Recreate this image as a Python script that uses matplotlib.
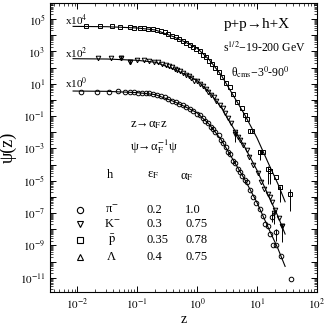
import numpy as np
import matplotlib
matplotlib.use("Agg")
import matplotlib.pyplot as plt
from matplotlib.ticker import LogLocator, FuncFormatter, NullFormatter

plt.rcParams["font.family"] = ["Liberation Serif", "DejaVu Serif"]
plt.rcParams["mathtext.fontset"] = "stix"

# scaling curve (pi-, x10^0); the other two are the same curve shifted
curve_z = [0.0085, 0.0316, 0.1, 0.2, 0.398, 0.631, 1.0, 1.585, 2.512, 3.981,
           6.31, 10.0, 15.85, 22.39, 29.5]
curve_logpsi = [0.55, 0.53, 0.45, 0.33, -0.08, -0.42, -0.8, -1.5, -2.45, -3.7,
                -4.95, -6.35, -8.0, -9.2, -10.3]
offsets = [1.0, 1e2, 1e4]
offset_labels = ["x10$^{0}$", "x10$^{2}$", "x10$^{4}$"]

# pi- (circles), x10^0
pi_z = [0.0117, 0.021, 0.034, 0.048, 0.062, 0.075, 0.09, 0.105, 0.12, 0.14,
        0.16, 0.18, 0.21, 0.25, 0.29, 0.33, 0.38, 0.45, 0.5, 0.58, 0.65, 0.76,
        0.85, 1.0, 1.1, 1.25, 1.36, 1.5, 1.7, 1.85, 2.0, 2.3, 2.5, 2.7, 3.0,
        3.3, 3.6, 4.0, 4.3, 4.8, 5.2, 5.6, 6.2, 6.8, 7.6, 8.6, 9.5, 11.2, 12.6,
        13.6, 15.2, 16.5, 18.5, 20.5, 25, 37]
pi_logpsi = [0.48, 0.50, 0.51, 0.55, 0.50, 0.49, 0.47, 0.45, 0.44, 0.42, 0.40,
             0.36, 0.30, 0.22, 0.15, 0.08, -0.05, -0.15, -0.25, -0.30, -0.42,
             -0.55, -0.68, -0.85, -0.95, -1.10, -1.30, -1.45, -1.70, -1.80,
             -2.0, -2.2, -2.5, -2.65, -2.9, -3.2, -3.35, -3.75, -3.9, -4.3,
             -4.45, -4.7, -4.95, -5.1, -5.6, -6.0, -6.4, -6.75, -7.2, -7.7,
             -7.8, -8.3, -9.0, -9.0, -9.65, -11.06]
pi_err_z = [17.7, 20.7]
pi_err_logpsi = [-7.25, -8.2]
pi_err_lo = [0.3, 0.5]
pi_err_hi = [0.3, 0.2]

# K- (down triangles), x10^2
k_z = [0.022, 0.036, 0.054, 0.076, 0.1, 0.13, 0.16, 0.19, 0.22, 0.26, 0.3,
       0.34, 0.38, 0.42, 0.47, 0.52, 0.58, 0.65, 0.72, 0.8, 0.9, 1.0, 1.12,
       1.25, 1.4, 1.55, 1.7, 1.9, 2.1, 2.4, 2.7, 2.9, 3.3, 3.7, 4.3, 4.8, 5.2,
       5.8, 6.8, 7.5, 8.5, 10.4, 11.5, 13, 15, 16.5, 18, 20, 23, 26]
k_logpsi = [2.58, 2.57, 2.62, 2.33, 2.47, 2.44, 2.40, 2.37, 2.33, 2.25, 2.18,
            2.1, 2.02, 1.93, 1.85, 1.78, 1.66, 1.55, 1.45, 1.33, 1.18, 1.15,
            0.98, 0.85, 0.68, 0.5, 0.33, 0.18, -0.05, -0.3, -0.5, -0.8, -1.1,
            -1.45, -2.0, -2.3, -2.45, -2.8, -3.1, -3.55, -4.0, -4.5, -5.1,
            -5.5, -5.8, -6.0, -6.3, -6.8, -7.3, -7.8]
k_err_z = [0.054, 0.076, 4.3, 19, 26]
k_err_logpsi = [2.62, 2.33, -2.1, -7.0, -7.8]
k_err_lo = [0.08, 0.1, 0.5, 0.7, 1.0]
k_err_hi = [0.08, 0.15, 0.1, 0.1, 0.1]

# anti-p (squares), x10^4
p_z = [0.0137, 0.024, 0.038, 0.052, 0.075, 0.09, 0.11, 0.13, 0.15, 0.18, 0.21,
       0.25, 0.29, 0.33, 0.38, 0.44, 0.5, 0.58, 0.65, 0.75, 0.85, 0.95, 1.1,
       1.25, 1.4, 1.6, 1.8, 2.0, 2.3, 2.6, 3.0, 3.5, 4.0, 4.6, 5.6, 6.2, 6.8,
       7.6, 8.3, 11.2, 12.6, 16.5, 21, 24]
p_logpsi = [4.58, 4.57, 4.57, 4.54, 4.5, 4.47, 4.45, 4.44, 4.4, 4.36, 4.32,
            4.26, 4.18, 4.1, 3.98, 3.88, 3.78, 3.65, 3.55, 3.42, 3.28, 3.18,
            3.0, 2.8, 2.65, 2.42, 2.2, 1.95, 1.7, 1.4, 1.05, 0.8, 0.35, -0.1,
            -0.5, -0.95, -1.2, -1.95, -1.9, -3.2, -3.25, -4.4, -4.8, -5.4]
p_err_z = [11.2, 15.2, 16.5, 24, 35]
p_err_logpsi = [-3.2, -4.3, -4.4, -5.4, -5.8]
p_err_lo = [0.5, 0.9, 0.8, 0.9, 1.1]
p_err_hi = [0.1, 0.2, 0.1, 0.1, 0.3]

table_h = ["π$^{-}$", "K$^{-}$", r"$\bar{\mathrm{p}}$", "Λ"]
table_eps = ["0.2", "0.3", "0.35", "0.4"]
table_alpha = ["1.0", "0.75", "0.78", "0.75"]
table_markers = ["o", "v", "s", "^"]

fig = plt.figure(figsize=(3.27, 3.27), dpi=100)
ax = fig.add_axes([0.153, 0.107, 0.816, 0.884])
ax.set_xscale("log")
ax.set_yscale("log")

mk = dict(ls="none", mfc="none", mec="black", ms=3.3, mew=0.7)
for off in offsets:
    ax.plot(curve_z, off * 10.0 ** np.array(curve_logpsi), color="black", lw=0.8)

ax.plot(pi_z, 10.0 ** np.array(pi_logpsi), marker="o", **mk)
ax.plot(k_z, 10.0 ** np.array(k_logpsi), marker="v", **mk)
ax.plot(p_z, 10.0 ** np.array(p_logpsi), marker="s", **mk)

for ez, elp, lo, hi, m in [(pi_err_z, pi_err_logpsi, pi_err_lo, pi_err_hi, "o"),
                           (k_err_z, k_err_logpsi, k_err_lo, k_err_hi, "v"),
                           (p_err_z, p_err_logpsi, p_err_lo, p_err_hi, "s")]:
    y = 10.0 ** np.array(elp)
    ylo = y - 10.0 ** (np.array(elp) - np.array(lo))
    yhi = 10.0 ** (np.array(elp) + np.array(hi)) - y
    ax.errorbar(ez, y, yerr=[ylo, yhi], fmt=m, mfc="none", mec="black",
                ms=3.3, mew=0.7, ecolor="black", elinewidth=0.7, capsize=0)

ax.set_xlim(0.0035, 100)
ax.set_ylim(1.3e-12, 1e6)

ax.xaxis.set_major_locator(LogLocator(base=10, numticks=10))
ax.xaxis.set_minor_locator(LogLocator(base=10, subs=np.arange(2, 10), numticks=20))
ax.yaxis.set_major_locator(LogLocator(base=10, subs=(1.0,), numticks=30))
ax.yaxis.set_minor_locator(LogLocator(base=10, subs=np.arange(2, 10), numticks=30))
ax.xaxis.set_major_formatter(FuncFormatter(lambda v, p: "$10^{%d}$" % round(np.log10(v))))
ax.yaxis.set_major_formatter(FuncFormatter(
    lambda v, p: "$10^{%d}$" % round(np.log10(v)) if round(np.log10(v)) % 2 else ""))
ax.xaxis.set_minor_formatter(NullFormatter())
ax.yaxis.set_minor_formatter(NullFormatter())
ax.tick_params(which="both", direction="in", top=True, right=True, labelsize=8)
ax.tick_params(which="major", length=4, width=0.7)
ax.tick_params(which="minor", length=2, width=0.5)
for s in ax.spines.values():
    s.set_linewidth(0.8)

ax.set_xlabel("z", fontsize=10, labelpad=1)
ax.set_ylabel("ψ(z)", fontsize=13, labelpad=2)

tr = ax.transAxes
for lab, fy in zip(offset_labels, [0.723, 0.827, 0.941]):
    ax.text(0.056, fy, lab, transform=tr, fontsize=8, va="center")

ax.text(0.775, 0.924, "p+p→h+X", transform=tr, fontsize=11, ha="center", va="center")
ax.text(0.648, 0.844, "s$^{1/2}$−19-200 GeV", transform=tr, fontsize=8.5, va="center")
ax.text(0.787, 0.761, "θ$_{\\rm cms}$−3$^{0}$-90$^{0}$", transform=tr, fontsize=8.5,
        ha="center", va="center")
ax.text(0.30, 0.578, "z→α$_{\\rm F}$z", transform=tr, fontsize=9, va="center")
ax.text(0.30, 0.502, "ψ→α$_{\\rm F}^{-1}$ψ", transform=tr, fontsize=9, va="center")

ax.text(0.225, 0.405, "h", transform=tr, fontsize=9, ha="center", va="center")
ax.text(0.386, 0.405, "ε$_{\\rm F}$", transform=tr, fontsize=9, ha="center", va="center")
ax.text(0.513, 0.398, "α$_{\\rm F}$", transform=tr, fontsize=9, ha="center", va="center")
rows = [0.284, 0.235, 0.18, 0.121]
for fy, m, h, e, a in zip(rows, table_markers, table_h, table_eps, table_alpha):
    ax.plot([0.112], [fy], marker=m, mfc="none", mec="black", ms=4.5, mew=0.8,
            transform=tr, ls="none")
    ax.text(0.232, fy, h, transform=tr, fontsize=9, ha="center", va="center")
    ax.text(0.36, fy, e, transform=tr, fontsize=9, va="center")
    ax.text(0.506, fy, a, transform=tr, fontsize=9, va="center")

fig.savefig("out.png", dpi=100)
